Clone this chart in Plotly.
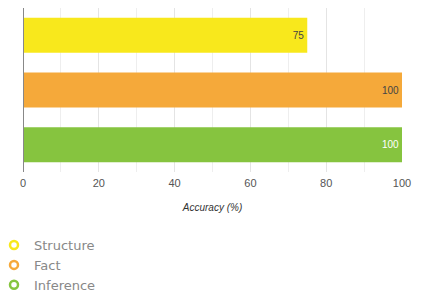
import plotly.graph_objects as go

categories = ["Structure", "Fact", "Inference"]
accuracy = [75, 100, 100]
colors = ["#F8E81C", "#F5A93A", "#86C43F"]
label_colors = ["#444444", "#444444", "#FFFFFF"]
tick_vals = [0, 20, 40, 60, 80, 100]

fig = go.Figure()
for c, v, col, lc in zip(categories, accuracy, colors, label_colors):
    fig.add_trace(go.Bar(
        x=[v], y=[c], orientation="h", marker=dict(color=col, line=dict(width=0)),
        text=[str(v)], textposition="inside", insidetextanchor="end",
        textfont=dict(color=lc, size=10, family="Liberation Sans"),
        showlegend=False, width=0.64,
    ))
    fig.add_trace(go.Scatter(
        x=[None], y=[None], mode="markers", name=c,
        marker=dict(symbol="circle-open", size=8, color=col, line=dict(width=2.5, color=col)),
    ))

fig.update_layout(
    width=417, height=284,
    margin=dict(l=15, r=23, t=0, b=120, autoexpand=False),
    paper_bgcolor="white", plot_bgcolor="white",
    font=dict(family="Liberation Sans", color="#555555", size=11),
    barmode="overlay",
    xaxis=dict(
        range=[0, 100], tickvals=tick_vals, showgrid=True, gridcolor="#E4E4E4",
        minor=dict(dtick=10, showgrid=True, gridcolor="#EEEEEE"),
        zeroline=False, showline=False, ticks="", automargin=False,
        ticklabelstandoff=3,
        tickfont=dict(size=11, color="#555555"),
        title=dict(text="<i>Accuracy (%)</i>", font=dict(size=10, color="#333333"), standoff=15),
    ),
    yaxis=dict(
        categoryorder="array", categoryarray=categories, autorange="reversed",
        showticklabels=False, showgrid=False, zeroline=False,
        showline=False, automargin=False,
    ),
    legend=dict(
        x=-0.0765, xanchor="left", y=-0.354, yanchor="top", orientation="v",
        font=dict(size=13, color="#888888", family="DejaVu Sans"),
        itemwidth=30, tracegroupgap=0,
    ),
    shapes=[dict(type="line", xref="x", yref="paper", x0=0, x1=0, y0=0, y1=1,
                 line=dict(color="#888888", width=2))],
)

fig.write_html("out.html")
